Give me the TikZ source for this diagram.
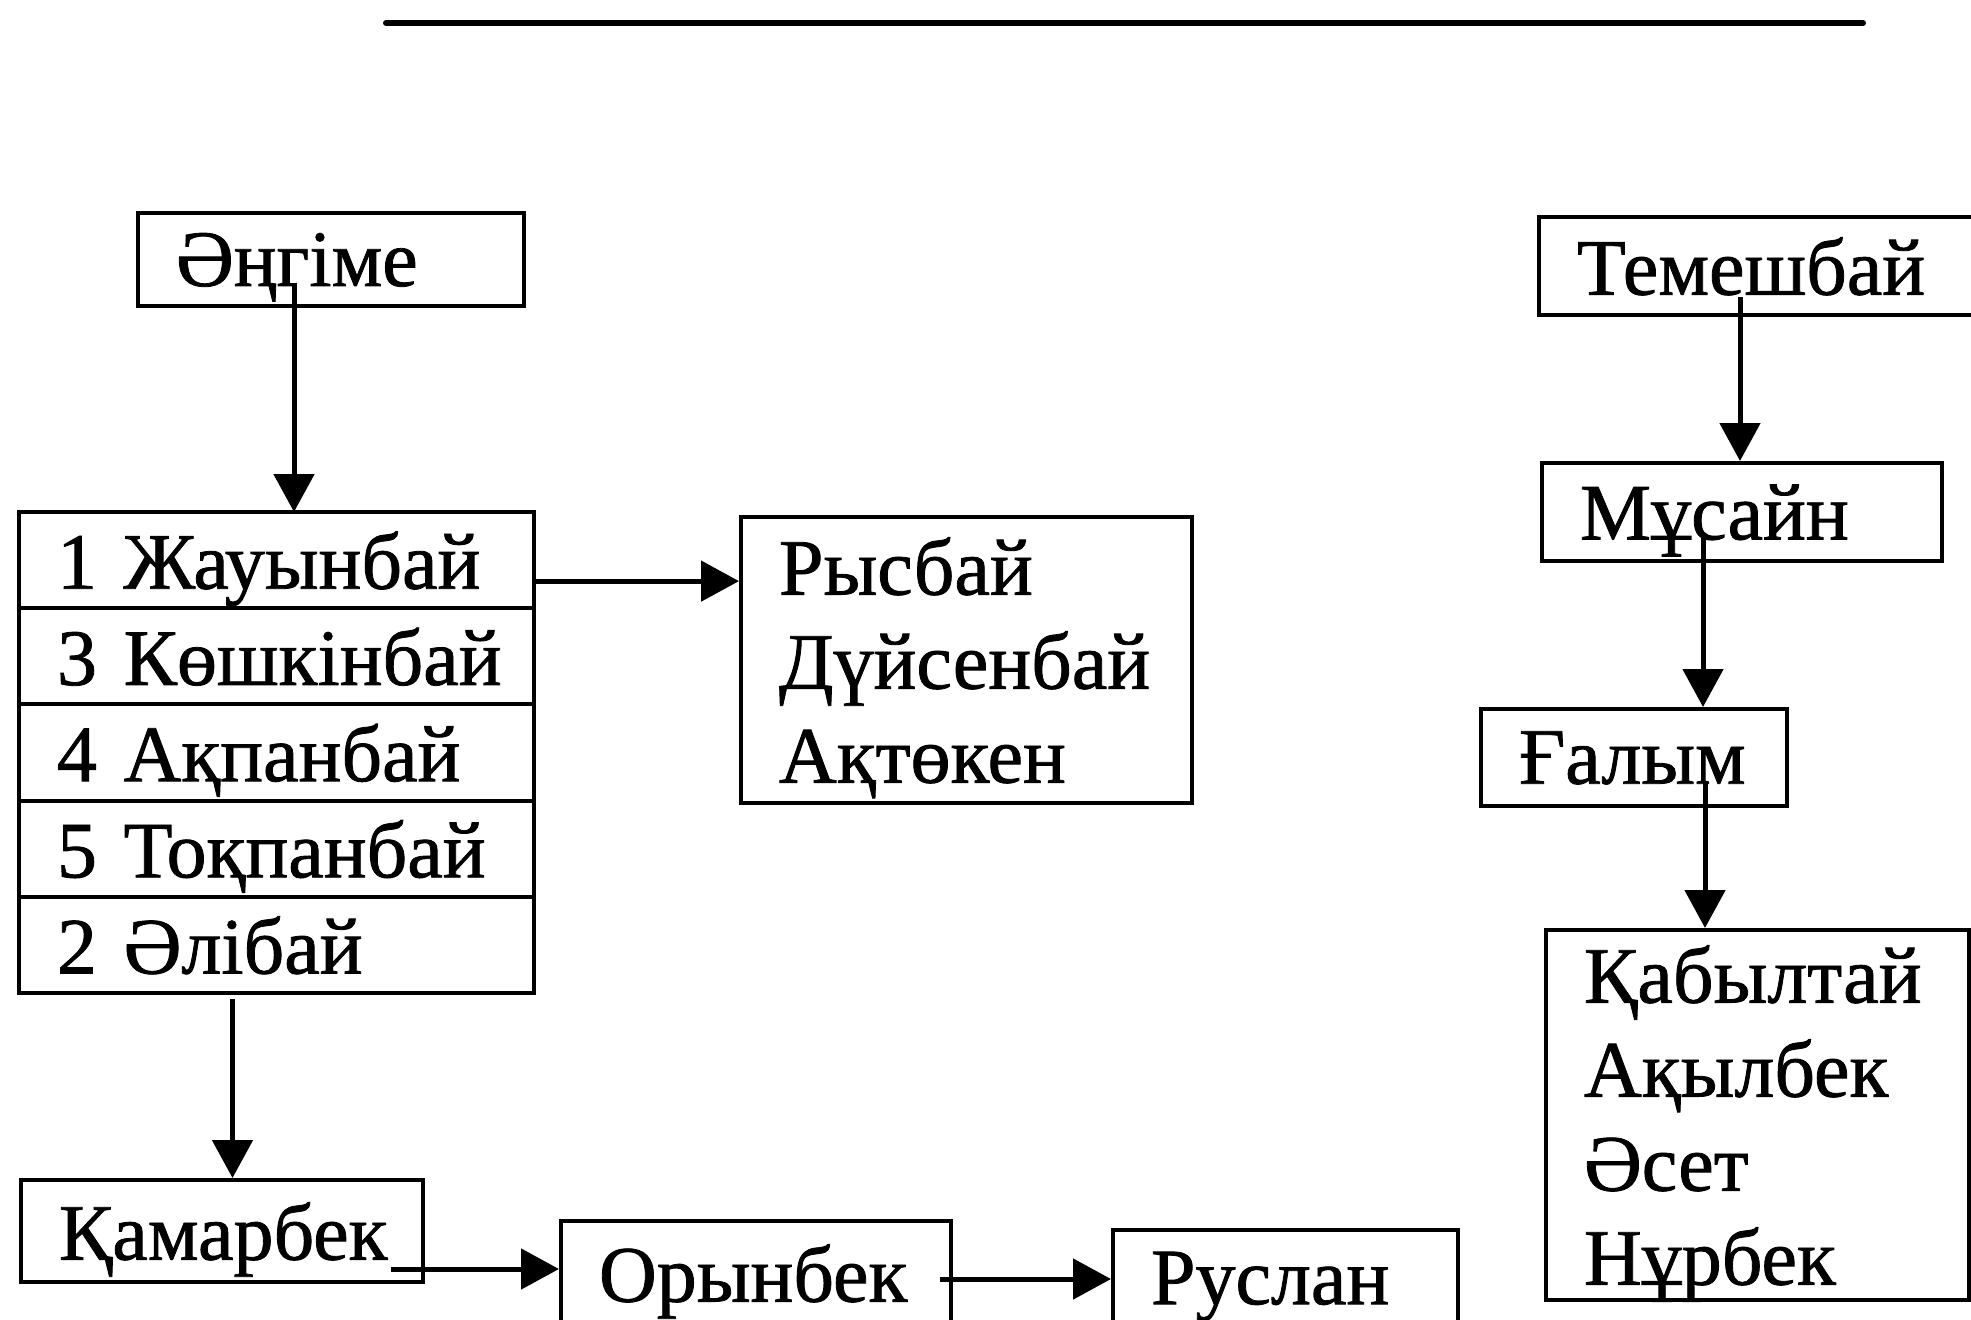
\documentclass[tikz,border=0pt]{standalone}
\usepackage{fontspec}
\setmainfont{Liberation Serif}[FakeBold=1]
\usetikzlibrary{arrows.meta, positioning}

\begin{document}
\begin{tikzpicture}[x=1pt, y=1pt,
    namebox/.style={rectangle, draw, line width=4pt, anchor=north west, inner xsep=38pt, inner ysep=0pt, text depth=0pt, align=left, font=\fontsize{80}{94}\selectfont},
    rowbox/.style={namebox, outer sep=0pt, text width=439pt, minimum height=96.2pt},
    arrow/.style={-{Triangle[length=38pt, width=40pt]}, line width=5pt}
]
\useasboundingbox (0,0) rectangle (1971,-1320);
\clip (0,0) rectangle (1971,-1320);

% top rule
\coordinate (ruleL) at (386,-23);
\coordinate (ruleR) at (1863,-23);
\draw[line width=6pt, line cap=round] (ruleL) -- (ruleR);

% left tree
\node[namebox, text width=310pt, minimum height=93pt] (engime) at (136,-211) {Әңгіме};
\node[rowbox] (jauyn) at (19,-512) {1~Жауынбай};
\node[rowbox, below=0pt of jauyn] (koshkin) {3~Көшкінбай};
\node[rowbox, below=0pt of koshkin] (aqpan) {4~Ақпанбай};
\node[rowbox, below=0pt of aqpan] (toqpan) {5~Тоқпанбай};
\node[rowbox, below=0pt of toqpan] (alibay) {2~Әлібай};
\node[namebox, text width=375pt, minimum height=286pt, text depth=188pt] (rysbay) at (739,-515) {Рысбай\\Дүйсенбай\\Ақтөкен};
\node[namebox, text width=326pt, minimum height=102pt] (qamar) at (19,-1178) {Қамарбек};
\node[namebox, text width=314pt, minimum height=104pt] (orynbek) at (559,-1219) {Орынбек};
\node[namebox, text width=269pt, minimum height=96pt] (ruslan) at (1111,-1228) {Руслан};

% right tree
\node[namebox, text width=384pt, minimum height=98pt] (temesh) at (1537,-215) {Темешбай};
\node[namebox, text width=324pt, minimum height=98pt] (musain) at (1540,-461) {Мұсайн};
\node[namebox, text width=230pt, minimum height=97pt] (galym) at (1479,-707) {Ғалым};
\node[namebox, text width=347pt, minimum height=370pt, text depth=282pt] (qabyl) at (1544,-928) {Қабылтай\\Ақылбек\\Әсет\\Нұрбек};

% connectors
\coordinate (engime-out) at ([xshift=-37pt, yshift=-23pt]engime.center);
\coordinate (jauyn-out) at ([yshift=-21pt]jauyn.east);
\coordinate (alibay-out) at ([xshift=-44pt, yshift=-6pt]alibay.south);
\coordinate (qamar-out) at ([xshift=-34pt, yshift=-38pt]qamar.east);
\coordinate (orynbek-out) at ([xshift=-13pt, yshift=-6pt]orynbek.east);
\coordinate (temesh-out) at ([xshift=-29pt, yshift=-31pt]temesh.center);
\coordinate (musain-out) at ([xshift=-39pt, yshift=-24pt]musain.center);
\coordinate (galym-out) at ([xshift=71pt, yshift=-23pt]galym.center);

\draw[arrow] (engime-out) -- (engime-out |- jauyn.north);
\draw[arrow] (jauyn-out) -- (jauyn-out -| rysbay.west);
\draw[arrow] (alibay-out) -- (alibay-out |- qamar.north);
\draw[arrow] (qamar-out) -- (qamar-out -| orynbek.west);
\draw[arrow] (orynbek-out) -- (orynbek-out -| ruslan.west);
\draw[arrow] (temesh-out) -- (temesh-out |- musain.north);
\draw[arrow] (musain-out) -- (musain-out |- galym.north);
\draw[arrow] (galym-out) -- (galym-out |- qabyl.north);
\end{tikzpicture}
\end{document}
